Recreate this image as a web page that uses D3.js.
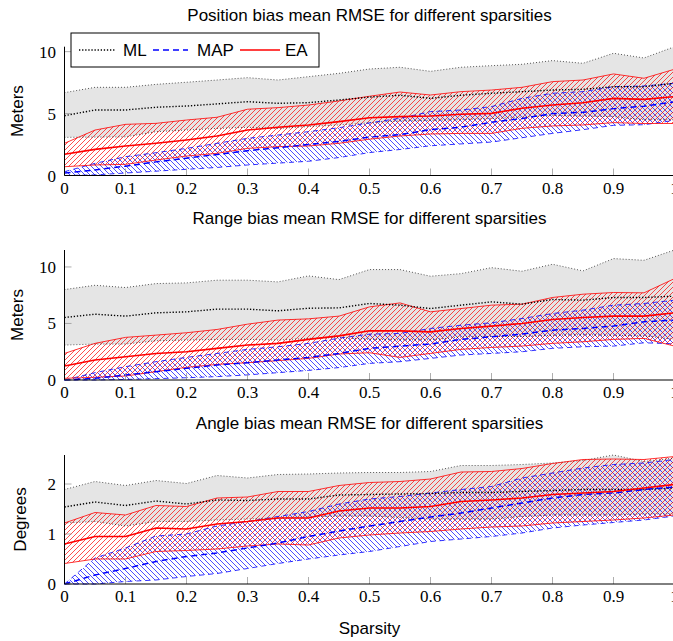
<!DOCTYPE html>
<html>
<head>
<meta charset="utf-8">
<script src="https://cdn.jsdelivr.net/npm/d3@7"></script>
<style>
	body { margin: 0; background: #fff; }
	svg { display: block; }
	.title, .axis-title, .legend-item { font-family: "Liberation Sans", Arial, sans-serif; font-size: 17px; fill: #000; }
	.tick-label { font-family: "Liberation Serif", "Times New Roman", serif; font-size: 17px; fill: #000; }
</style>
</head>
<body>
<svg id="chart"></svg>
<script>
// sparsity levels (x values)
const sparsity = [0, 0.05, 0.1, 0.15, 0.2, 0.25, 0.3, 0.35, 0.4, 0.45, 0.5, 0.55, 0.6, 0.65, 0.7, 0.75, 0.8, 0.85, 0.9, 0.95, 1];
const xTicks = [0, 0.1, 0.2, 0.3, 0.4, 0.5, 0.6, 0.7, 0.8, 0.9, 1];
const methods = ["ML", "MAP", "EA"];

// Position bias (meters)
const posMlHi = [6.69, 7.12, 7.12, 7.36, 7.53, 7.71, 7.9, 7.71, 7.98, 8.25, 8.6, 8.74, 8.41, 8.74, 8.87, 8.98, 9.28, 9.06, 9.87, 9.49, 10.4];
const posMlMean = [4.83, 5.29, 5.29, 5.51, 5.61, 5.78, 5.96, 5.83, 5.88, 6.1, 6.33, 6.48, 6.23, 6.48, 6.64, 6.77, 6.9, 6.96, 7.17, 7.17, 7.45];
const posMlLo = [3.08, 3.1, 3.12, 3.54, 3.67, 3.8, 3.89, 3.8, 3.95, 4.08, 4.25, 4.4, 4.45, 4.5, 4.6, 4.7, 4.85, 4.8, 4.75, 4.5, 4.5];
const posMapHi = [0.31, 0.98, 1.52, 1.84, 2.19, 2.6, 3.0, 3.27, 3.54, 3.86, 4.25, 4.62, 5.16, 5.29, 5.56, 6.23, 6.64, 6.77, 7.17, 7.23, 7.45];
const posMapMean = [0.2, 0.45, 0.75, 1.1, 1.4, 1.7, 2.0, 2.25, 2.5, 2.75, 3.1, 3.3, 3.7, 3.9, 4.3, 4.6, 5.0, 5.1, 5.4, 5.6, 5.95];
const posMapLo = [0, 0.05, 0.2, 0.35, 0.5, 0.65, 0.85, 1.0, 1.15, 1.45, 1.85, 2.1, 2.4, 2.55, 2.7, 3.05, 3.4, 3.7, 4.05, 4.1, 4.45];
const posEaHi = [2.6, 3.67, 4.13, 4.21, 4.48, 4.7, 5.35, 5.48, 5.69, 6.02, 6.4, 6.74, 6.5, 6.77, 6.9, 7.12, 7.58, 7.71, 8.2, 7.85, 8.58];
const posEaMean = [1.71, 2.11, 2.38, 2.6, 2.87, 3.19, 3.67, 3.89, 4.08, 4.35, 4.66, 4.75, 4.8, 4.94, 5.02, 5.43, 5.69, 5.88, 6.23, 6.15, 6.37];
const posEaLo = [0.71, 0.85, 0.9, 1.25, 1.57, 1.79, 2.19, 2.33, 2.38, 2.6, 2.93, 3.19, 3.35, 3.4, 3.4, 3.81, 4.0, 4.08, 4.27, 4.2, 4.2];

// Range bias (meters)
const rngMlHi = [8.0, 8.38, 8.18, 8.53, 8.59, 8.83, 8.83, 8.68, 9.21, 8.88, 9.77, 9.77, 9.18, 9.41, 9.94, 9.62, 10.24, 9.65, 10.74, 10.59, 11.5];
const rngMlMean = [5.53, 5.82, 5.65, 5.94, 6.03, 6.27, 6.27, 6.12, 6.35, 6.38, 6.77, 6.62, 6.32, 6.62, 6.91, 6.71, 7.12, 7.06, 7.3, 7.3, 7.41];
const rngMlLo = [3.09, 3.18, 3.18, 3.47, 3.53, 3.59, 3.59, 3.53, 3.68, 3.75, 3.6, 3.55, 3.55, 3.8, 3.85, 3.85, 3.95, 4.0, 3.95, 3.9, 3.6];
const rngMapHi = [0, 0.65, 1.18, 1.62, 2.0, 2.35, 2.71, 2.94, 3.24, 3.7, 4.06, 4.12, 4.56, 4.85, 5.06, 5.44, 5.88, 6.18, 6.62, 6.77, 7.06];
const rngMapMean = [0, 0.15, 0.44, 0.74, 1.03, 1.32, 1.53, 1.77, 2.0, 2.35, 2.8, 3.0, 3.18, 3.59, 3.83, 4.06, 4.41, 4.56, 4.77, 5.15, 5.3];
const rngMapLo = [0, 0, 0.05, 0.12, 0.2, 0.3, 0.45, 0.65, 0.85, 1.1, 1.47, 1.62, 1.91, 2.21, 2.35, 2.5, 2.8, 2.94, 3.0, 3.29, 3.2];
const rngEaHi = [2.35, 3.24, 3.77, 3.97, 4.18, 4.47, 4.94, 5.3, 5.41, 5.65, 6.47, 6.82, 6.03, 6.32, 6.62, 6.71, 7.3, 7.59, 7.74, 7.71, 8.97];
const rngEaMean = [1.24, 1.77, 2.06, 2.35, 2.5, 2.8, 3.09, 3.24, 3.59, 3.9, 4.35, 4.35, 4.26, 4.56, 4.77, 5.0, 5.35, 5.53, 5.65, 5.65, 5.94];
const rngEaLo = [0.15, 0.24, 0.35, 0.74, 1.12, 1.38, 1.53, 1.71, 1.91, 2.3, 2.41, 2.0, 2.35, 2.71, 2.88, 3.0, 3.24, 3.38, 3.59, 3.68, 3.0];

// Angle bias (degrees)
const angMlHi = [1.89, 2.05, 1.97, 2.07, 2.01, 2.17, 2.12, 2.19, 2.2, 2.22, 2.23, 2.23, 2.25, 2.37, 2.37, 2.39, 2.42, 2.47, 2.58, 2.45, 2.52];
const angMlMean = [1.54, 1.64, 1.57, 1.66, 1.6, 1.68, 1.67, 1.7, 1.7, 1.78, 1.79, 1.8, 1.81, 1.83, 1.83, 1.85, 1.87, 1.89, 1.89, 1.89, 1.92];
const angMlLo = [1.22, 1.25, 1.16, 1.25, 1.25, 1.28, 1.3, 1.32, 1.34, 1.36, 1.36, 1.33, 1.3, 1.3, 1.3, 1.35, 1.38, 1.38, 1.38, 1.4, 1.4];
const angMapHi = [0, 0.52, 0.72, 0.96, 1.0, 1.16, 1.25, 1.35, 1.45, 1.6, 1.7, 1.75, 1.82, 1.89, 1.95, 2.12, 2.22, 2.32, 2.39, 2.42, 2.49];
const angMapMean = [0, 0.18, 0.31, 0.45, 0.55, 0.62, 0.72, 0.82, 0.95, 1.06, 1.16, 1.25, 1.34, 1.42, 1.52, 1.62, 1.72, 1.79, 1.82, 1.89, 1.94];
const angMapLo = [0, 0, 0.05, 0.08, 0.15, 0.21, 0.31, 0.41, 0.5, 0.58, 0.65, 0.75, 0.85, 0.9, 0.95, 1.02, 1.12, 1.18, 1.23, 1.28, 1.36];
const angEaHi = [1.22, 1.43, 1.38, 1.57, 1.55, 1.72, 1.74, 1.85, 1.85, 1.97, 2.03, 2.05, 2.1, 2.24, 2.25, 2.31, 2.41, 2.49, 2.5, 2.49, 2.55];
const angEaMean = [0.8, 0.95, 0.95, 1.12, 1.1, 1.2, 1.25, 1.32, 1.32, 1.46, 1.52, 1.52, 1.55, 1.65, 1.68, 1.72, 1.79, 1.82, 1.85, 1.92, 1.99];
const angEaLo = [0.41, 0.5, 0.5, 0.65, 0.67, 0.7, 0.76, 0.8, 0.78, 0.92, 0.98, 1.02, 1.05, 1.1, 1.14, 1.16, 1.22, 1.25, 1.28, 1.32, 1.38];

const panels = [
	{ title: "Position bias mean RMSE for different sparsities", ylabel: "Meters", yTicks: [0, 5, 10], top: 46.7, bottom: 175.5, labelX: 22.7,
		ML: [posMlLo, posMlMean, posMlHi], MAP: [posMapLo, posMapMean, posMapHi], EA: [posEaLo, posEaMean, posEaHi] },
	{ title: "Range bias mean RMSE for different sparsities", ylabel: "Meters", yTicks: [0, 5, 10], top: 250, bottom: 380, labelX: 22.7,
		ML: [rngMlLo, rngMlMean, rngMlHi], MAP: [rngMapLo, rngMapMean, rngMapHi], EA: [rngEaLo, rngEaMean, rngEaHi] },
	{ title: "Angle bias mean RMSE for different sparsities", ylabel: "Degrees", yTicks: [0, 1, 2], top: 455, bottom: 584, labelX: 25.5,
		ML: [angMlLo, angMlMean, angMlHi], MAP: [angMapLo, angMapMean, angMapHi], EA: [angEaLo, angEaMean, angEaHi] }
];

const W = 673, H = 641;
const plotLeft = 64.5, plotRight = 674.5;

const styles = {
	ML: { color: "#000", meanWidth: 1.4, meanDash: "1.3,1.8", boundWidth: 0.8, boundDash: "0.8,2.2" },
	MAP: { color: "#0000ff", meanWidth: 1.5, meanDash: "6,4", boundWidth: 0.8, boundDash: "5,4" },
	EA: { color: "#ff0000", meanWidth: 1.6, meanDash: null, boundWidth: 0.8, boundDash: null }
};

const svg = d3.select("#chart")
	.attr("width", W)
	.attr("height", H);

// hatch patterns
const defs = svg.append("defs");
function hatch(id, color, dir) {
	const s = 5;
	const p = defs.append("pattern")
		.attr("id", id)
		.attr("patternUnits", "userSpaceOnUse")
		.attr("width", s)
		.attr("height", s);
	const d = dir === "ne"
		? `M0,${s} L${s},0 M${-s / 2},${s / 2} L${s / 2},${-s / 2} M${s / 2},${s * 1.5} L${s * 1.5},${s / 2}`
		: `M0,0 L${s},${s} M${-s / 2},${s / 2} L${s / 2},${s * 1.5} M${s / 2},${-s / 2} L${s * 1.5},${s / 2}`;
	p.append("path")
		.attr("d", d)
		.attr("stroke", color)
		.attr("stroke-width", 0.7)
		.attr("fill", "none");
}
hatch("hatchEA", "#ff0000", "ne");
hatch("hatchMAP", "#0000ff", "nw");

const x = d3.scaleLinear().domain([0, 1]).range([plotLeft, plotRight]);

function drawPanel(p) {
	const yMax = d3.max([p.ML[2], p.MAP[2], p.EA[2]].flat());
	const y = d3.scaleLinear().domain([0, yMax]).range([p.bottom, p.top]);
	const g = svg.append("g");

	const area = (lo, hi) => d3.area()
		.x((d, i) => x(sparsity[i]))
		.y0((d, i) => y(lo[i]))
		.y1((d, i) => y(hi[i]))(lo);
	const line = vals => d3.line()
		.x((d, i) => x(sparsity[i]))
		.y(d => y(d))(vals);

	// bands
	g.append("path").attr("d", area(p.ML[0], p.ML[2])).attr("fill", "#e5e5e5");
	g.append("path").attr("d", area(p.MAP[0], p.MAP[2])).attr("fill", "url(#hatchMAP)");
	g.append("path").attr("d", area(p.EA[0], p.EA[2])).attr("fill", "url(#hatchEA)");

	// bound and mean lines
	methods.forEach(m => {
		const st = styles[m];
		[0, 2].forEach(k => {
			g.append("path")
				.attr("d", line(p[m][k]))
				.attr("fill", "none")
				.attr("stroke", st.color)
				.attr("stroke-width", st.boundWidth)
				.attr("stroke-dasharray", st.boundDash);
		});
	});
	methods.forEach(m => {
		const st = styles[m];
		g.append("path")
			.attr("d", line(p[m][1]))
			.attr("fill", "none")
			.attr("stroke", st.color)
			.attr("stroke-width", st.meanWidth)
			.attr("stroke-dasharray", st.meanDash);
	});

	// ticks (pgfplots style, inward, gray)
	g.selectAll(".xt").data(xTicks).enter().append("line")
		.attr("x1", d => x(d)).attr("x2", d => x(d))
		.attr("y1", p.bottom).attr("y2", p.bottom - 7)
		.attr("stroke", "#999").attr("stroke-width", 0.8);
	g.selectAll(".yt").data(p.yTicks).enter().append("line")
		.attr("x1", plotLeft).attr("x2", plotLeft + 7)
		.attr("y1", d => y(d)).attr("y2", d => y(d))
		.attr("stroke", "#999").attr("stroke-width", 0.8);

	// axis lines
	g.append("line")
		.attr("x1", plotLeft).attr("x2", plotLeft)
		.attr("y1", p.top).attr("y2", p.bottom)
		.attr("stroke", "#000").attr("stroke-width", 1);
	g.append("line")
		.attr("x1", plotLeft).attr("x2", plotRight)
		.attr("y1", p.bottom).attr("y2", p.bottom)
		.attr("stroke", "#000").attr("stroke-width", 1);

	// tick labels
	g.selectAll(".xl").data(xTicks).enter().append("text")
		.attr("class", "tick-label")
		.attr("x", d => x(d))
		.attr("y", p.bottom + 18)
		.attr("text-anchor", "middle")
		.text(d => d3.format("~g")(d));
	g.selectAll(".yl").data(p.yTicks).enter().append("text")
		.attr("class", "tick-label")
		.attr("x", 56)
		.attr("y", d => y(d) + 6)
		.attr("text-anchor", "end")
		.text(d => d);

	// titles
	g.append("text")
		.attr("class", "title")
		.attr("x", (plotLeft + plotRight) / 2)
		.attr("y", p.top - 26)
		.attr("text-anchor", "middle")
		.text(p.title);
	g.append("text")
		.attr("class", "axis-title")
		.attr("transform", `translate(${p.labelX},${(p.top + p.bottom) / 2}) rotate(-90)`)
		.attr("text-anchor", "middle")
		.text(p.ylabel);
}

panels.forEach(drawPanel);

svg.append("text")
	.attr("class", "axis-title")
	.attr("x", (plotLeft + plotRight) / 2)
	.attr("y", 634)
	.attr("text-anchor", "middle")
	.text("Sparsity");

// legend
const legend = svg.append("g");
legend.append("rect")
	.attr("x", 71).attr("y", 33)
	.attr("width", 248).attr("height", 34)
	.attr("fill", "#fff").attr("stroke", "#000").attr("stroke-width", 1);
const legendPos = [
	{ x1: 79, x2: 115, tx: 123 },
	{ x1: 153, x2: 188, tx: 197 },
	{ x1: 240, x2: 280, tx: 285 }
];
methods.forEach((m, i) => {
	const st = styles[m];
	legend.append("line")
		.attr("x1", legendPos[i].x1).attr("x2", legendPos[i].x2)
		.attr("y1", 50).attr("y2", 50)
		.attr("stroke", st.color)
		.attr("stroke-width", st.meanWidth)
		.attr("stroke-dasharray", st.meanDash);
	legend.append("text")
		.attr("class", "legend-item")
		.attr("x", legendPos[i].tx)
		.attr("y", 56)
		.text(m);
});
</script>
</body>
</html>
